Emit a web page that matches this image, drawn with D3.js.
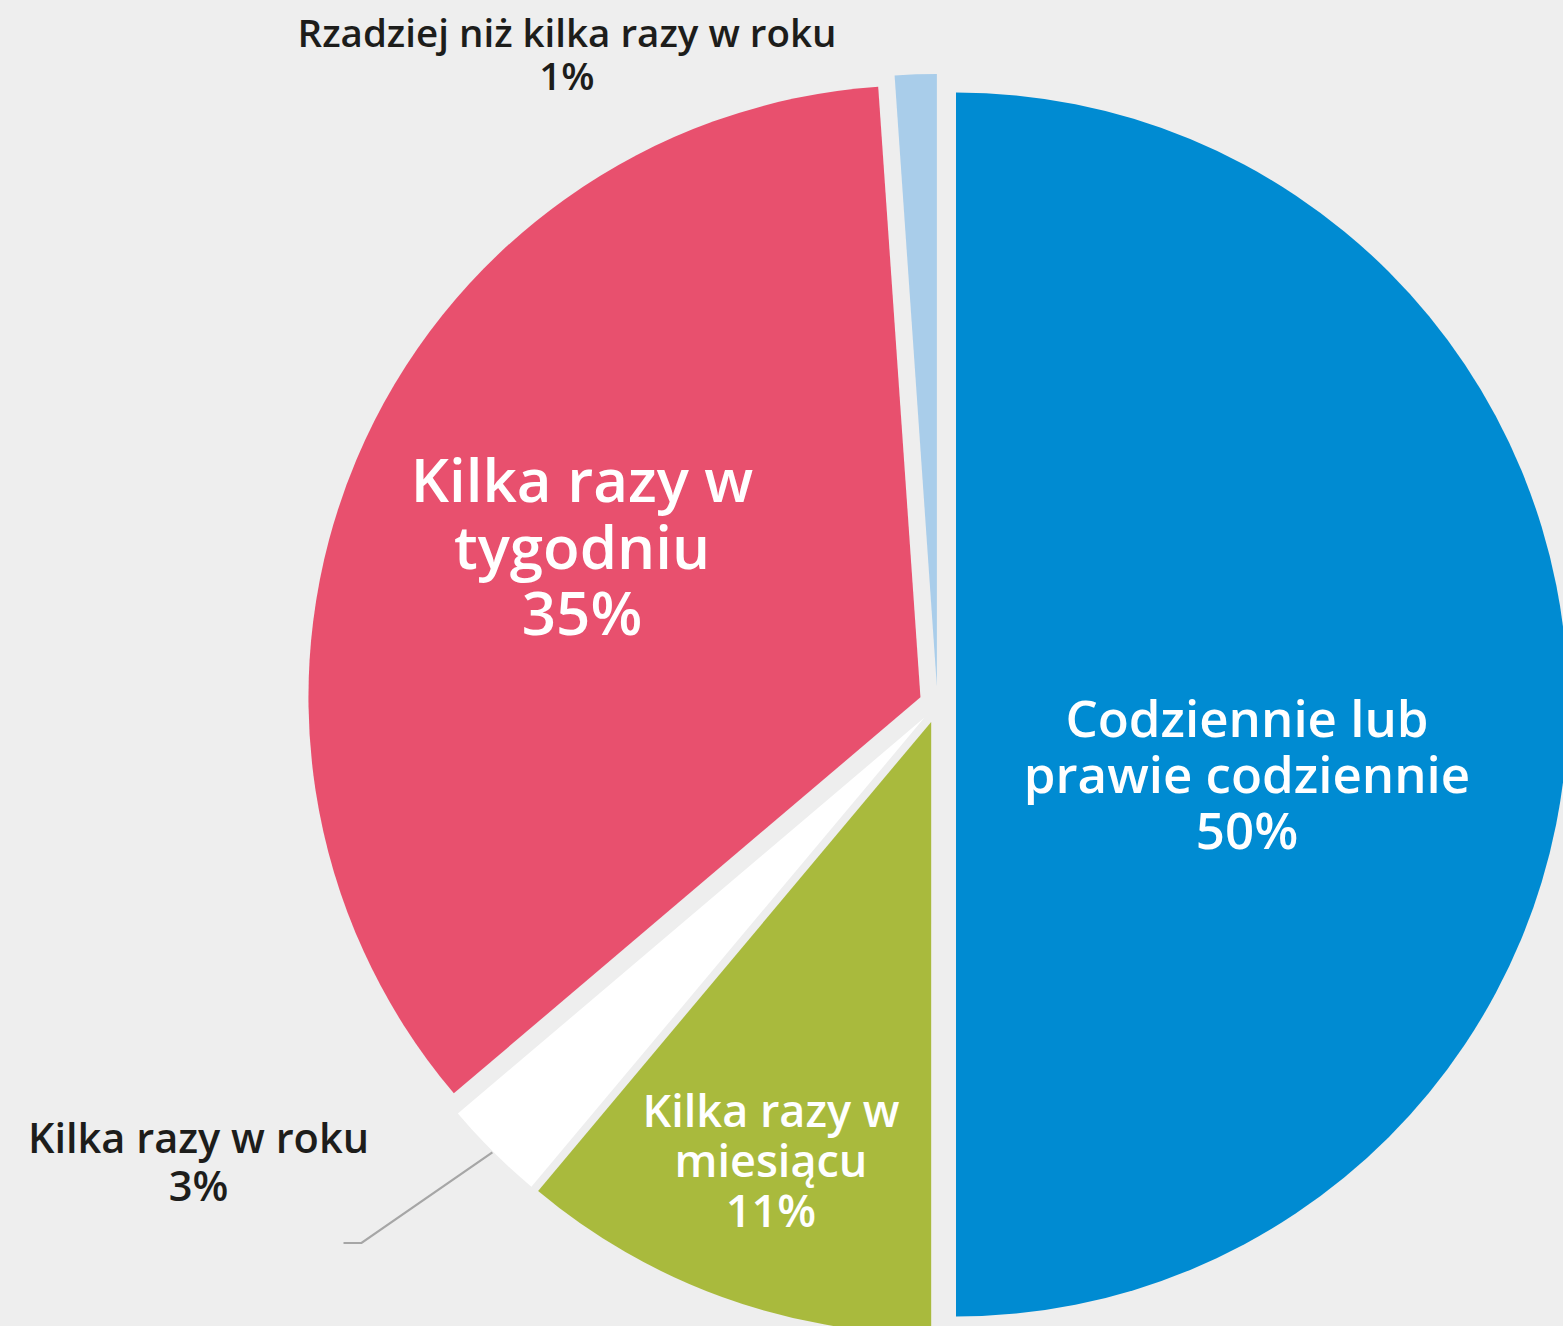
<!DOCTYPE html>
<html>
<head>
<meta charset="utf-8">
<script src="https://cdn.jsdelivr.net/npm/d3@7"></script>
<style>
  html, body { margin: 0; padding: 0; background: #eeeeee; }
  svg { display: block; }
  text { font-family: "Open Sans", "DejaVu Sans", sans-serif; font-weight: 600; }
</style>
</head>
<body>
<div class="pie-container"></div>
<script>
// data (clockwise from 12 o'clock)
var categories = [
  "Codziennie lub prawie codziennie",
  "Kilka razy w miesiącu",
  "Kilka razy w roku",
  "Kilka razy w tygodniu",
  "Rzadziej niż kilka razy w roku"
];
var shares = [50, 11.1, 2.7, 35.1, 1.1];
var shareLabels = ["50%", "11%", "3%", "35%", "1%"];
var labelLines = [
  ["Codziennie lub", "prawie codziennie"],
  ["Kilka razy w", "miesiącu"],
  ["Kilka razy w roku"],
  ["Kilka razy w", "tygodniu"],
  ["Rzadziej niż kilka razy w roku"]
];
var colors = ["#008bd2", "#a9ba3d", "#ffffff", "#e8506e", "#a9cdea"];

// ---------------------- layout ----------------------
var width = 1563,
    height = 1326,
    cx = 937.5,
    cy = 704.5,
    radius = 612,
    explode = 18.5;

// label anchors relative to pie centre: dx, dy (first baseline), font size, line height, colour
var labelLayout = [
  { dx: 309.5,  dy: 32.5,  size: 51,   lh: 56,   fill: "#ffffff" },
  { dx: -166.5, dy: 422.5, size: 45,   lh: 50,   fill: "#ffffff" },
  { dx: -739,   dy: 448.5, size: 41.5, lh: 48,   fill: "#1d1d1b" },
  { dx: -355.5, dy: -202.5, size: 60,  lh: 66.5, fill: "#ffffff" },
  { dx: -370.5, dy: -657.5, size: 38.5, lh: 43,  fill: "#1d1d1b" }
];

var svg = d3.select(".pie-container").append("svg")
    .attr("width", width)
    .attr("height", height);

svg.append("rect")
    .attr("width", width)
    .attr("height", height)
    .attr("fill", "#eeeeee");

var pie = d3.pie().sort(null).value(function(d) { return d; });
var arcs = pie(shares);

var arc = d3.arc().innerRadius(0).outerRadius(radius);

function shift(d) {
  var mid = (d.startAngle + d.endAngle) / 2;
  return [Math.sin(mid) * explode, -Math.cos(mid) * explode];
}

var g = svg.append("g")
    .attr("transform", "translate(" + cx + "," + cy + ")");

g.selectAll("path.slice")
    .data(arcs)
    .enter()
    .append("path")
    .attr("class", "slice")
    .attr("transform", function(d) {
      var s = shift(d);
      return "translate(" + s[0] + "," + s[1] + ")";
    })
    .attr("d", arc)
    .attr("fill", function(d, i) { return colors[i]; });

// leader line for the small "Kilka razy w roku" slice
var small = arcs[2],
    sm = shift(small),
    midA = (small.startAngle + small.endAngle) / 2,
    lab = labelLayout[2];
var start = [Math.sin(midA) * (radius + 1) + sm[0], -Math.cos(midA) * (radius + 1) + sm[1]];
var leader = [
  start,
  [lab.dx + 163, lab.dy + 90],
  [lab.dx + 145, lab.dy + 90]
];
g.append("path")
    .attr("d", d3.line()(leader))
    .attr("fill", "none")
    .attr("stroke", "#a6a6a6")
    .attr("stroke-width", 2.2);

// labels
var labels = g.selectAll("text.slice-label")
    .data(arcs)
    .enter()
    .append("text")
    .attr("class", "slice-label")
    .attr("text-anchor", "middle")
    .attr("fill", function(d, i) { return labelLayout[i].fill; })
    .style("font-size", function(d, i) { return labelLayout[i].size + "px"; });

labels.each(function(d, i) {
  var lay = labelLayout[i],
      lines = labelLines[i].concat([shareLabels[i]]),
      t = d3.select(this);
  lines.forEach(function(line, k) {
    t.append("tspan")
      .attr("x", lay.dx)
      .attr("y", lay.dy + k * lay.lh)
      .text(line);
  });
});
</script>
</body>
</html>
